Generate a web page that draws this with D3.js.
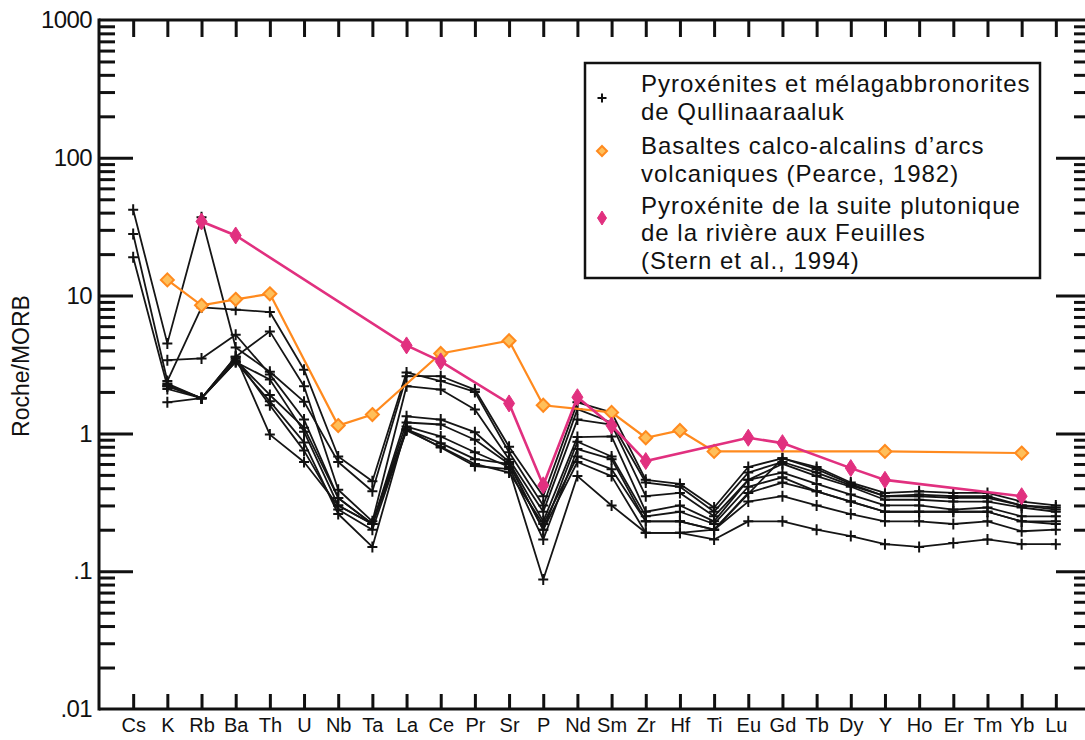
<!DOCTYPE html>
<html>
<head>
<meta charset="utf-8">
<script src="https://cdn.jsdelivr.net/npm/d3@7"></script>
<style>
  html, body { margin: 0; padding: 0; background: #ffffff; }
  svg text { font-family: "Liberation Sans", Arial, Helvetica, sans-serif; fill: #111; }
</style>
</head>
<body>
<svg id="chart" width="1085" height="740"></svg>
<script>
// Trace elements, normalised to MORB
const elements = ["Cs","K","Rb","Ba","Th","U","Nb","Ta","La","Ce","Pr","Sr","P","Nd","Sm","Zr","Hf","Ti","Eu","Gd","Tb","Dy","Y","Ho","Er","Tm","Yb","Lu"];

// Quillinaaraaluk pyroxenites and melagabbronorites (one array per sample, null = not analysed)
const q1 = [42, 4.5, 37, 4.2, 2.8, 1.7, 0.62, 0.38, 2.6, 2.6, 2.08, 0.8, 0.35, 1.68, 1.42, 0.46, 0.43, 0.29, 0.57, 0.66, 0.57, 0.44, 0.37, 0.38, 0.37, 0.37, 0.32, 0.30];
const q2 = [28, 2.4, 8.2, 7.9, 7.6, 2.9, 0.68, 0.45, 2.77, 2.4, 2.0, 0.73, 0.30, 1.5, 1.2, 0.44, 0.41, 0.27, 0.52, 0.62, 0.52, 0.42, 0.35, 0.35, 0.34, 0.34, 0.30, 0.28];
const q3 = [19, 2.2, 1.8, 3.6, 5.5, 2.2, 0.39, 0.23, 2.2, 2.08, 1.49, 0.65, 0.27, 1.26, 1.16, 0.35, 0.37, 0.25, 0.46, 0.60, 0.49, 0.41, 0.33, 0.33, 0.32, 0.32, 0.29, 0.27];
const q4 = [null, 3.4, 3.5, 5.2, 2.68, 1.26, 0.34, 0.22, 1.33, 1.26, 1.02, 0.62, 0.23, 0.94, 0.95, 0.27, 0.30, 0.23, 0.46, 0.52, 0.43, 0.36, 0.30, 0.30, 0.28, 0.29, 0.25, 0.25];
const q5 = [null, 2.1, 1.8, 3.3, 2.46, 1.03, 0.30, 0.22, 1.2, 1.16, 0.9, 0.60, 0.20, 0.87, 0.68, 0.25, 0.27, 0.22, 0.41, 0.48, 0.38, 0.32, 0.27, 0.27, 0.27, 0.27, 0.23, 0.23];
const q6 = [null, 1.68, 1.8, 3.3, 1.71, 0.86, 0.26, 0.15, 1.12, 0.95, 0.73, 0.57, 0.17, 0.77, 0.65, 0.23, 0.23, 0.20, 0.37, 0.44, 0.38, 0.32, 0.27, 0.27, 0.27, 0.27, 0.23, 0.22];
const q7 = [null, 2.3, 1.8, 3.6, 0.98, 0.62, 0.30, 0.22, 1.07, 0.79, 0.58, 0.55, 0.087, 0.49, 0.30, 0.19, 0.19, 0.17, 0.23, 0.23, 0.20, 0.18, 0.157, 0.15, 0.16, 0.17, 0.157, 0.157];
const q8 = [null, 2.2, 1.8, 3.4, 1.9, 1.1, 0.34, 0.22, 1.07, 0.85, 0.65, 0.60, 0.20, 0.62, 0.49, 0.19, 0.19, 0.20, null, 0.66, 0.55, 0.43, 0.35, 0.36, 0.35, 0.35, 0.30, 0.29];
const q9 = [null, 2.25, 1.8, 3.5, 1.6, 0.75, 0.28, 0.20, 1.05, 0.80, 0.60, 0.52, 0.22, 0.68, 0.55, 0.23, 0.23, 0.20, 0.32, 0.35, 0.30, 0.26, 0.23, 0.23, 0.22, 0.23, 0.195, 0.20];
const quillSamples = [q1, q2, q3, q4, q5, q6, q7, q8, q9];

// Calc-alkaline arc basalts (Pearce, 1982)
const pearce = [null, 13, 8.5, 9.4, 10.3, null, 1.14, 1.37, null, 3.8, null, 4.7, 1.6, null, 1.42, 0.93, 1.05, 0.74, null, null, null, null, 0.74, null, null, null, 0.72, null];

// Pyroxenite, rivière aux Feuilles plutonic suite (Stern et al., 1994)
const stern = [null, null, 34.5, 27.3, null, null, null, null, 4.35, 3.33, null, 1.65, 0.42, 1.83, 1.14, 0.63, null, null, 0.93, 0.85, null, 0.56, 0.46, null, null, null, 0.35, null];

const yMajorTicks = [0.01, 0.1, 1, 10, 100, 1000];
const yTickLabels = [".01", ".1", "1", "10", "100", "1000"];

const legendLabels = [
  ["Pyroxénites et mélagabbronorites", "de Qullinaaraaluk"],
  ["Basaltes calco-alcalins d\u2019arcs", "volcaniques (Pearce, 1982)"],
  ["Pyroxénite de la suite plutonique", "de la rivière aux Feuilles", "(Stern et al., 1994)"]
];

(function () {
const svg = d3.select("#chart");
const xL = 99, xR = 1090, yT = 20, yB = 709;

const x = d3.scalePoint().domain(elements).range([xL, xR]).padding(1);
const y = d3.scaleLog().domain([0.01, 1000]).range([yB, yT]);

const ORANGE = "#ff8a1e", ORANGE_FILL = "#ffbf5a", PINK = "#e1307f";

// minor log ticks (2..9 in each decade)
const minorTicks = y.ticks().filter(v => !yMajorTicks.some(m => Math.abs(m - v) < 1e-9));

// ---- frame ----
const frame = svg.append("g").attr("stroke", "#111").attr("stroke-width", 3).attr("fill", "none");
frame.append("line").attr("x1", xL).attr("x2", xL).attr("y1", yT - 1.5).attr("y2", yB + 1.5);
frame.append("line").attr("x1", xL).attr("x2", xR).attr("y1", yT).attr("y2", yT);
frame.append("line").attr("x1", xL).attr("x2", xR).attr("y1", yB).attr("y2", yB);
frame.append("line").attr("x1", xR).attr("x2", xR).attr("y1", yT).attr("y2", yB);

function styleAxis(g, w) {
  g.select(".domain").remove();
  g.selectAll(".tick line").attr("stroke", "#111").attr("stroke-width", w);
  g.selectAll(".tick text").remove();
}

// left axis ticks
svg.append("g").attr("transform", `translate(${xL},0)`)
  .call(d3.axisRight(y).tickValues(yMajorTicks.slice(1, -1)).tickSize(34).tickFormat(""))
  .call(g => styleAxis(g, 3));
svg.append("g").attr("transform", `translate(${xL},0)`)
  .call(d3.axisRight(y).tickValues(minorTicks).tickSize(16).tickFormat(""))
  .call(g => styleAxis(g, 3));
// right axis ticks
svg.append("g").attr("transform", `translate(${xR},0)`)
  .call(d3.axisLeft(y).tickValues(yMajorTicks.slice(1, -1)).tickSize(34).tickFormat(""))
  .call(g => styleAxis(g, 3));
svg.append("g").attr("transform", `translate(${xR},0)`)
  .call(d3.axisLeft(y).tickValues(minorTicks).tickSize(16).tickFormat(""))
  .call(g => styleAxis(g, 3));

// y tick labels
const yLab = svg.append("g").attr("transform", `translate(${xL},0)`)
  .call(d3.axisLeft(y).tickValues(yMajorTicks).tickSize(0).tickPadding(7)
        .tickFormat((d, i) => yTickLabels[i]));
yLab.select(".domain").remove();
yLab.selectAll("text").attr("font-size", 24).attr("fill", "#111")
  .attr("font-family", "'Liberation Sans', Arial, sans-serif").attr("letter-spacing", -0.6);

// x ticks (top and bottom)
svg.append("g").attr("transform", `translate(0,${yT})`)
  .call(d3.axisBottom(x).tickSize(17).tickFormat(""))
  .call(g => styleAxis(g, 3));
svg.append("g").attr("transform", `translate(0,${yB})`)
  .call(d3.axisTop(x).tickSize(15).tickFormat(""))
  .call(g => styleAxis(g, 3));

// x labels
const xLab = svg.append("g").attr("transform", `translate(0,${yB})`)
  .call(d3.axisBottom(x).tickSize(0).tickPadding(9));
xLab.select(".domain").remove();
xLab.selectAll("text").attr("font-size", 20).attr("fill", "#111")
  .attr("font-family", "'Liberation Sans', Arial, sans-serif");

// y title
svg.append("text")
  .attr("transform", `translate(29,366) rotate(-90)`)
  .attr("text-anchor", "middle")
  .attr("font-size", 23)
  .text("Roche/MORB");

// ---- series ----
const line = d3.line()
  .x(d => x(d.el))
  .y(d => y(d.v));

function present(arr) { return arr.map((v, i) => ({ el: elements[i], v })).filter(d => d.v != null); }

const crossPath = "M-5,0H5M0,-5.5V5.5";
const diamond = r => `M0,${-r}L${r},0L0,${r}L${-r},0Z`;

const blackG = svg.append("g");
quillSamples.forEach(s => {
  blackG.append("path")
    .attr("d", line(present(s)))
    .attr("fill", "none").attr("stroke", "#151515").attr("stroke-width", 1.8)
    .attr("stroke-linejoin", "round");
});
quillSamples.forEach(s => {
  blackG.selectAll(null).data(present(s)).enter().append("path")
    .attr("d", crossPath)
    .attr("transform", d => `translate(${x(d.el)},${y(d.v)})`)
    .attr("stroke", "#111").attr("stroke-width", 2).attr("fill", "none");
});

// Pearce 1982
svg.append("path").attr("d", line(present(pearce)))
  .attr("fill", "none").attr("stroke", ORANGE).attr("stroke-width", 2.2);
svg.selectAll(".pearce").data(present(pearce)).enter().append("path")
  .attr("class", "pearce")
  .attr("d", diamond(6.5))
  .attr("transform", d => `translate(${x(d.el)},${y(d.v)})`)
  .attr("fill", ORANGE_FILL).attr("stroke", ORANGE).attr("stroke-width", 2);

// Stern et al. 1994
svg.append("path").attr("d", line(present(stern)))
  .attr("fill", "none").attr("stroke", PINK).attr("stroke-width", 2.6);
svg.selectAll(".stern").data(present(stern)).enter().append("path")
  .attr("class", "stern")
  .attr("d", "M0,-8.5L5.5,0L0,8.5L-5.5,0Z")
  .attr("transform", d => `translate(${x(d.el)},${y(d.v)})`)
  .attr("fill", PINK).attr("stroke", PINK).attr("stroke-width", 1);

// ---- legend ----
const lg = svg.append("g");
lg.append("rect").attr("x", 585).attr("y", 63).attr("width", 455).attr("height", 215)
  .attr("fill", "#fff").attr("stroke", "#111").attr("stroke-width", 2.5);

const baselines = [[92, 120], [154, 182], [214, 241, 269]];
legendLabels.forEach((lines, i) => {
  lines.forEach((t, j) => {
    lg.append("text").attr("x", 641).attr("y", baselines[i][j])
      .attr("font-size", 24).attr("letter-spacing", 1).text(t);
  });
});
lg.append("path").attr("d", "M-4.5,0H4.5M0,-4.5V4.5").attr("transform", "translate(602,98)")
  .attr("stroke", "#111").attr("stroke-width", 2);
lg.append("path").attr("d", diamond(5)).attr("transform", "translate(602,151)")
  .attr("fill", ORANGE_FILL).attr("stroke", ORANGE).attr("stroke-width", 2);
lg.append("path").attr("d", "M0,-7L4.5,0L0,7L-4.5,0Z").attr("transform", "translate(602,218)")
  .attr("fill", PINK).attr("stroke", PINK);
})();
</script>
</body>
</html>
